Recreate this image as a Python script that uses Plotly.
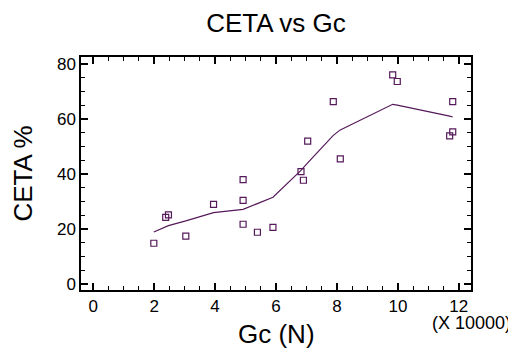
import plotly.graph_objects as go

# Gc in units of 10000 N, CETA in %
gc = [1.99, 2.38, 2.47, 3.04, 3.95, 4.92, 4.92, 4.92, 5.39, 5.90,
      6.82, 6.90, 7.04, 7.88, 8.11, 9.83, 9.98, 11.70, 11.80, 11.80]
ceta = [14.8, 24.2, 25.1, 17.4, 28.9, 37.9, 30.4, 21.7, 18.8, 20.6,
        40.8, 37.7, 51.9, 66.3, 45.5, 76.0, 73.6, 53.8, 55.3, 66.3]

# smoothed fit
fit_x = [1.99, 2.38, 2.47, 3.04, 3.95, 4.92, 5.39, 5.90, 6.82, 6.90,
         7.04, 7.88, 8.11, 9.83, 9.98, 11.70, 11.80]
fit_y = [18.9, 20.7, 21.2, 22.9, 25.9, 27.1, 29.2, 31.5, 41.3, 42.3,
         44.0, 54.0, 56.0, 65.3, 65.0, 61.0, 60.7]

x_range = [-0.4, 12.4]
y_range = [-2.2, 82.5]

color = "#55195a"
font_name = "Liberation Sans, Arial, sans-serif"

fig = go.Figure()
fig.add_trace(go.Scatter(x=fit_x, y=fit_y, mode="lines",
                         line=dict(color=color, width=1.2), hoverinfo="skip"))
fig.add_trace(go.Scatter(x=gc, y=ceta, mode="markers",
                         marker=dict(symbol="square-open", size=6, color=color,
                                     line=dict(width=1.2, color=color))))

fig.update_xaxes(range=x_range, dtick=2, tick0=0, ticks="inside", ticklen=7,
                 tickwidth=1.5, tickcolor="black",
                 tickfont=dict(family=font_name, size=17, color="black"),
                 showline=True, linecolor="black", linewidth=1.5, mirror="ticks",
                 showgrid=False, zeroline=False,
                 minor=dict(ticks="inside", dtick=0.5, ticklen=4,
                            tickcolor="black", tickwidth=1.2))
fig.update_yaxes(range=y_range, dtick=20, tick0=0, ticks="inside", ticklen=7,
                 tickwidth=1.5, tickcolor="black",
                 tickfont=dict(family=font_name, size=17, color="black"),
                 showline=True, linecolor="black", linewidth=1.5, mirror="ticks",
                 showgrid=False, zeroline=False,
                 minor=dict(ticks="inside", dtick=5, ticklen=4,
                            tickcolor="black", tickwidth=1.2))

# axis titles and the scale note placed as annotations
fig.add_annotation(
    text="Gc (N)", xref="paper", yref="paper", x=0.5, y=-0.19,
    xanchor="center", yanchor="middle", showarrow=False,
    font=dict(family=font_name, size=26, color="black"),
)
fig.add_annotation(
    text="CETA %", xref="paper", yref="paper", x=-0.151, y=0.5, textangle=-90,
    xanchor="center", yanchor="middle", showarrow=False,
    font=dict(family=font_name, size=26, color="black"),
)
fig.add_annotation(
    text="(X 10000)", xref="paper", yref="paper", x=1.0, y=-0.14,
    xanchor="center", yanchor="middle", showarrow=False,
    font=dict(family=font_name, size=18, color="black"),
)

# page body adds an 8px offset, so the figure is a bit smaller than the window
fig.update_layout(
    width=508, height=350,
    margin=dict(l=73, r=45, t=49, b=68),
    title=dict(text="CETA vs Gc", x=0.5, xref="paper", xanchor="center",
               y=0.958, yanchor="middle",
               font=dict(family=font_name, size=26, color="black")),
    showlegend=False,
    plot_bgcolor="white", paper_bgcolor="white",
)

fig.write_html("out.html")
